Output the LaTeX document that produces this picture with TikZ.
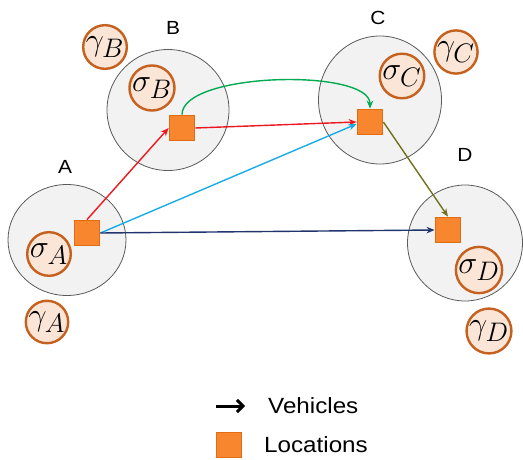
\documentclass[tikz,border=0pt]{standalone}
\usepackage{graphicx}
\usepackage{fontspec}
\setmainfont[FakeStretch=1.1]{Liberation Sans}
\usetikzlibrary{shapes.geometric,arrows.meta}
\DeclareMathSizes{20}{20}{17}{12}

\definecolor{regionfill}{RGB}{242,242,242}
\definecolor{regionline}{RGB}{90,90,90}
\definecolor{parfill}{RGB}{251,229,214}
\definecolor{parline}{RGB}{197,96,30}
\definecolor{locfill}{RGB}{248,134,46}
\definecolor{locline}{RGB}{226,108,18}
\definecolor{vred}{RGB}{236,24,32}
\definecolor{vgreen}{RGB}{0,170,80}
\definecolor{vcyan}{RGB}{24,172,230}
\definecolor{vnavy}{RGB}{32,52,110}
\definecolor{volive}{RGB}{112,112,30}

% parameter symbol, enlarged to fill its ring
\newcommand{\parsym}[1]{\scalebox{1.55}{$#1$}}

\begin{document}
\begin{tikzpicture}[x=1pt,y=-1pt,
  region/.style={ellipse, draw=regionline, fill=regionfill, line width=0.8pt, inner sep=0pt},
  param/.style={circle, draw=parline, fill=parfill, line width=2.4pt, minimum size=41pt, inner sep=0pt,
                font=\fontsize{20}{24}\selectfont},
  loc/.style={rectangle, draw=locline, fill=locfill, line width=1.8pt, minimum size=25pt, inner sep=0pt},
  lbl/.style={font=\fontsize{19}{23}\selectfont, inner sep=0pt},
  legtext/.style={font=\fontsize{22}{26}\selectfont, anchor=west, inner sep=0pt},
  veh/.style={line width=1.4pt, -{Stealth[length=8pt,width=6.5pt]}}]
\useasboundingbox (0,0) rectangle (523,460);

% regions
\node[region, minimum width=118pt, minimum height=111pt] (rA) at (67,240) {};
\node[region, minimum width=122pt, minimum height=121pt] (rB) at (168,110) {};
\node[region, minimum width=123pt, minimum height=128pt] (rC) at (380,100) {};
\node[region, minimum width=115pt, minimum height=116pt] (rD) at (465,243) {};

% region names
\node[lbl] (nA) at (65,167) {A};
\node[lbl] (nB) at (173,28) {B};
\node[lbl] (nC) at (378,18) {C};
\node[lbl] (nD) at (465,155) {D};

% parameters
\node[param] (sA) at (49,254) {\parsym{\sigma_A}};
\node[param] (gA) at (47,322) {\parsym{\gamma_A}};
\node[param] (sB) at (152,88) {\parsym{\sigma_B}};
\node[param] (gB) at (105,47) {\parsym{\gamma_B}};
\node[param] (sC) at (402,76) {\parsym{\sigma_C}};
\node[param] (gC) at (456,52) {\parsym{\gamma_C}};
\node[param] (sD) at (479,270) {\parsym{\sigma_D}};
\node[param] (gD) at (489,331) {\parsym{\gamma_D}};

% locations
\node[loc] (lA) at (87,233) {};
\node[loc] (lB) at (182,128) {};
\node[loc] (lC) at (370,122) {};
\node[loc] (lD) at (448,230) {};

% vehicle routes
\draw[veh, vred] (lA.north) -- (lB.west);
\draw[veh, vred] (lB.east) -- (lC.west);
\draw[veh, vgreen] (lB.north) .. controls (182,72) and (370,68) .. (lC.north);
\draw[veh, vcyan] (lA.east) -- ([yshift=-2pt]lC.west);
\draw[veh, vnavy] (lA.east) -- (lD.west);
\draw[veh, volive] (lC.east) -- (lD.north);

% keep the squares above the line ends
\node[loc] at (lA) {};
\node[loc] at (lB) {};
\node[loc] at (lC) {};
\node[loc] at (lD) {};

% legend
\coordinate (k1) at (216,406);
\coordinate (k2) at (245,406);
\draw[line width=3pt, -{Straight Barb[length=6pt,width=12pt]}] (k1) -- (k2);
\node[legtext] (tv) at (268,406) {Vehicles};
\node[loc] (kl) at (229,445) {};
\node[legtext] (tl) at (264,445) {Locations};
\end{tikzpicture}
\end{document}
